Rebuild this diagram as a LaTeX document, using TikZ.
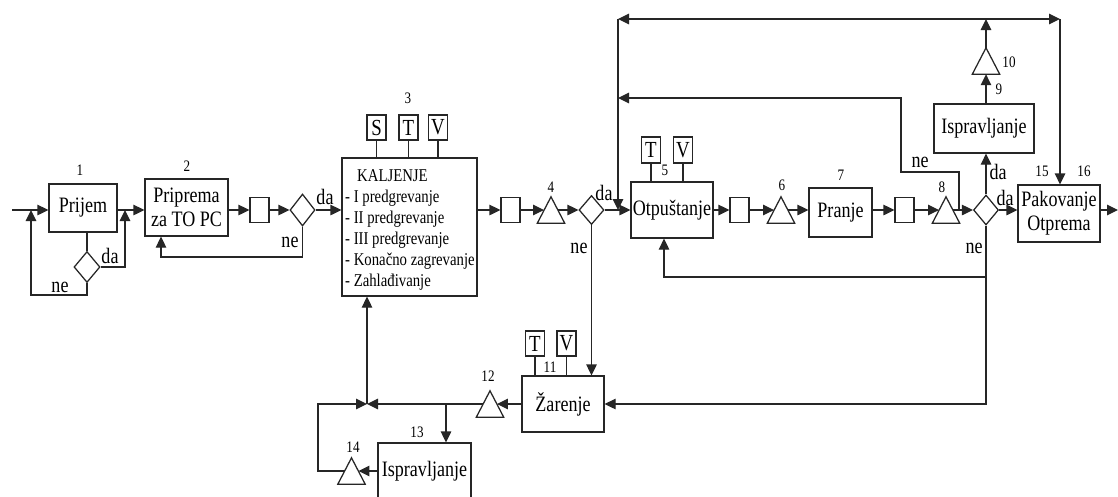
\documentclass[tikz,border=0pt]{standalone}
\usepackage{fontspec}
\setmainfont{Liberation Serif}[FakeStretch=0.82]
\usetikzlibrary{shapes.geometric,arrows.meta}
\tikzset{
 ln/.style={line width=1.25pt, draw=black!85},
 arr/.style={ln, -{Triangle[length=11pt,width=10.5pt]}},
 arrboth/.style={ln, {Triangle[length=11pt,width=10.5pt]}-{Triangle[length=11pt,width=10.5pt]}},
 box/.style={ln, rectangle, inner sep=0pt, align=center, font=\fontsize{22}{24}\selectfont},
 sbox/.style={ln, rectangle, inner sep=0pt, minimum width=19pt, minimum height=25pt, font=\fontsize{23}{23}\selectfont},
 dia/.style={ln, diamond, inner sep=0pt},
 trinode/.style={inner sep=0pt, minimum width=13.5pt, minimum height=26pt},
 num/.style={inner sep=0pt, font=\fontsize{16}{16}\selectfont},
 yn/.style={inner sep=0pt, font=\fontsize{22}{22}\selectfont},
 kt/.style={inner sep=0pt, anchor=base west, font=\fontsize{18}{20}\selectfont},
}
\newcommand\mytri[2]{\node[trinode] (#1) at (#2) {};
  \draw[ln, line join=miter] ([xshift=-6.75pt]#1.south west) -- ([xshift=6.75pt]#1.south east) -- (#1.north) -- cycle;}
\begin{document}
\begin{tikzpicture}[x=1pt,y=-1pt]
\fill[white] (0,0) rectangle (1118,496);
\useasboundingbox (0,0) rectangle (1118,496);

% ---- nodes ----
\coordinate (start) at (12,210);
\node[box, minimum width=68pt, minimum height=48pt] (prijem) at (83,208) {Prijem};
\node[num] (n1) at (80,170) {1};
\node[dia, minimum width=26pt, minimum height=31pt] (d0) at (87,267) {};
\node[yn] (d0da) at (110,256) {da};
\node[yn] (d0ne) at (60,287) {ne};
\coordinate (j0) at (125,210);
\coordinate (j0b) at (31,210);

\node[box, minimum width=83pt, minimum height=57pt, font=\fontsize{22}{23.5}\selectfont] (prip) at (186.5,207.5) {Priprema\\za TO PC};
\node[num] (n2) at (187,166) {2};
\node[sbox] (sq1) at (259.5,210) {};
\node[dia, minimum width=25pt, minimum height=32pt] (d1) at (302.5,210) {};
\node[yn] (d1da) at (325,197) {da};
\node[yn] (d1ne) at (290,242) {ne};

\node[ln, rectangle, inner sep=0pt, minimum width=135pt, minimum height=138pt] (kal) at (409.5,227) {};
\node[num] (n3) at (408,98) {3};
\node[sbox] (kS) at (376.5,127.5) {S};
\node[sbox] (kT) at (408.5,127.5) {T};
\node[sbox] (kV) at (438,127.5) {V};
\node[kt] (k0) at (357,181) {KALJENJE};
\node[kt] (k1) at (345,202) {- I predgrevanje};
\node[kt] (k2) at (345,223) {- II predgrevanje};
\node[kt] (k3) at (345,244) {- III predgrevanje};
\node[kt] (k4) at (345,265) {- Konačno zagrevanje};
\node[kt] (k5) at (345,286) {- Zahlađivanje};

\node[sbox] (sq2) at (510.5,210) {};
\mytri{t4}{551,210}
\node[num] (n4) at (551,187) {4};
\node[dia, minimum width=25pt, minimum height=29pt] (d4) at (591.5,210) {};
\node[yn] (d4da) at (604,193) {da};
\node[yn] (d4ne) at (579,248) {ne};

\node[box, minimum width=82pt, minimum height=56pt] (otp) at (672,210) {Otpuštanje};
\node[num] (n5) at (665,170) {5};
\node[sbox, minimum height=26pt] (oT) at (651,150) {T};
\node[sbox, minimum height=26pt] (oV) at (683,150) {V};

\node[sbox] (sq3) at (739.5,210) {};
\mytri{t6}{781,210}
\node[num] (n6) at (782,185) {6};
\node[box, minimum width=63pt, minimum height=49pt] (pranje) at (840.5,212.5) {Pranje};
\node[num] (n7) at (841,175) {7};
\node[sbox] (sq4) at (904.5,210) {};
\mytri{t8}{946,210}
\node[num] (n8) at (942,187) {8};
\node[dia, minimum width=25pt, minimum height=30pt] (d8) at (986,210) {};
\node[yn] (d8ne1) at (920,162) {ne};
\node[yn] (d8da1) at (998,172) {da};
\node[yn] (d8da2) at (1005,198) {da};
\node[yn] (d8ne2) at (974,248) {ne};

\node[box, minimum width=100pt, minimum height=49pt] (isp1) at (984,128.5) {Ispravljanje};
\node[num] (n9) at (999,89) {9};
\mytri{t10}{986,61}
\node[num] (n10) at (1009,62) {10};

\node[box, minimum width=82pt, minimum height=57pt] (pak) at (1059,213.5) {Pakovanje\\Otprema};
\node[num] (n15) at (1042,171) {15};
\node[num] (n16) at (1084,171) {16};
\coordinate (end) at (1118,210);

\coordinate (tl) at (618,19);
\coordinate (tr) at (1060,19);

\node[box, minimum width=82pt, minimum height=56pt] (zar) at (563,404) {Žarenje};
\node[num] (n11) at (550,367) {11};
\node[sbox] (zT) at (535,343.5) {T};
\node[sbox] (zV) at (566.5,343.5) {V};
\mytri{t12}{490,404}
\node[num] (n12) at (488,376) {12};
\coordinate (J) at (367,404);
\coordinate (br) at (446,404);
\node[box, minimum width=93pt, minimum height=56pt] (isp2) at (424.5,471) {Ispravljanje};
\node[num] (n13) at (417,432) {13};
\mytri{t14}{351.5,471}
\node[num] (n14) at (353,447) {14};

% ---- connectors ----
\draw[arr] (start) -- (start -| prijem.west);
\draw[arr] (prijem.east |- j0) -- (prip.west |- j0);
\draw[ln] (d0.north) -- (d0.north |- prijem.south);
\draw[arr] (d0.east) -| (j0);
\draw[arr] (d0.south) -- (87,295) -| (j0b);

\draw[arr] (prip.east |- sq1.west) -- (sq1.west);
\draw[arr] (sq1.east) -- (d1.west);
\draw[arr] (d1.east) -- (d1.east -| kal.west);
\draw[arr] (d1.south) -- (302.5,257) -| (161,257 |- prip.south);

\draw[ln] (kS.south) -- (kS.south |- kal.north);
\draw[ln] (kT.south) -- (kT.south |- kal.north);
\draw[ln] (kV.south) -- (kV.south |- kal.north);
\draw[arr] (kal.east |- sq2.west) -- (sq2.west);
\draw[arr] (sq2.east) -- (t4.west);
\draw[arr] (t4.east) -- (d4.west);
\draw[arr] (d4.east) -- (d4.east -| otp.west);
\draw[arr] (d4.south) -- (d4.south |- zar.north);

\draw[ln] (oT.south) -- (oT.south |- otp.north);
\draw[ln] (oV.south) -- (oV.south |- otp.north);
\draw[arr] (otp.east) -- (sq3.west);
\draw[arr] (sq3.east) -- (t6.west);
\draw[arr] (t6.east) -- (t6.east -| pranje.west);
\draw[arr] (pranje.east |- sq4.west) -- (sq4.west);
\draw[arr] (sq4.east) -- (t8.west);
\draw[arr] (t8.east) -- (d8.west);
\draw[arr] (d8.east) -- (d8.east -| pak.west);
\draw[arr] (pak.east |- end) -- (end);

\draw[arr] (d8.north) -- (d8.north |- isp1.south);
\draw[arr] (d8.north |- isp1.north) -- (t10.south);
\draw[arr] (t10.north) -- (t10.north |- tl);
\draw[arrboth] (tl) -- (tr);
\draw[arr] (tl) -- (tl |- d4.east);
\draw[arr] (tr) -- (tr |- pak.north);

\draw[arr] (959,210) -- (959,172) -- (901,172) -- (901,98) -- (tl |- 0,98);

\draw[arr] (d8.south) |- (zar.east);
\draw[arr] (d8.south |- 0,277) -| (664,277 |- otp.south);

\draw[ln] (zT.south) -- (zT.south |- zar.north);
\draw[ln] (zV.south) -- (zV.south |- zar.north);
\draw[arr] (zar.west) -- (t12.east);
\draw[arr] (t12.west) -- (J);
\draw[arr] (J) -- (J |- kal.south);
\draw[arr] (br) -- (br |- isp2.north);
\draw[arr] (isp2.west |- t14.east) -- (t14.east);
\draw[arr] (t14.west) -- (318,471) -- (318,404) -- (J);
\end{tikzpicture}
\end{document}
